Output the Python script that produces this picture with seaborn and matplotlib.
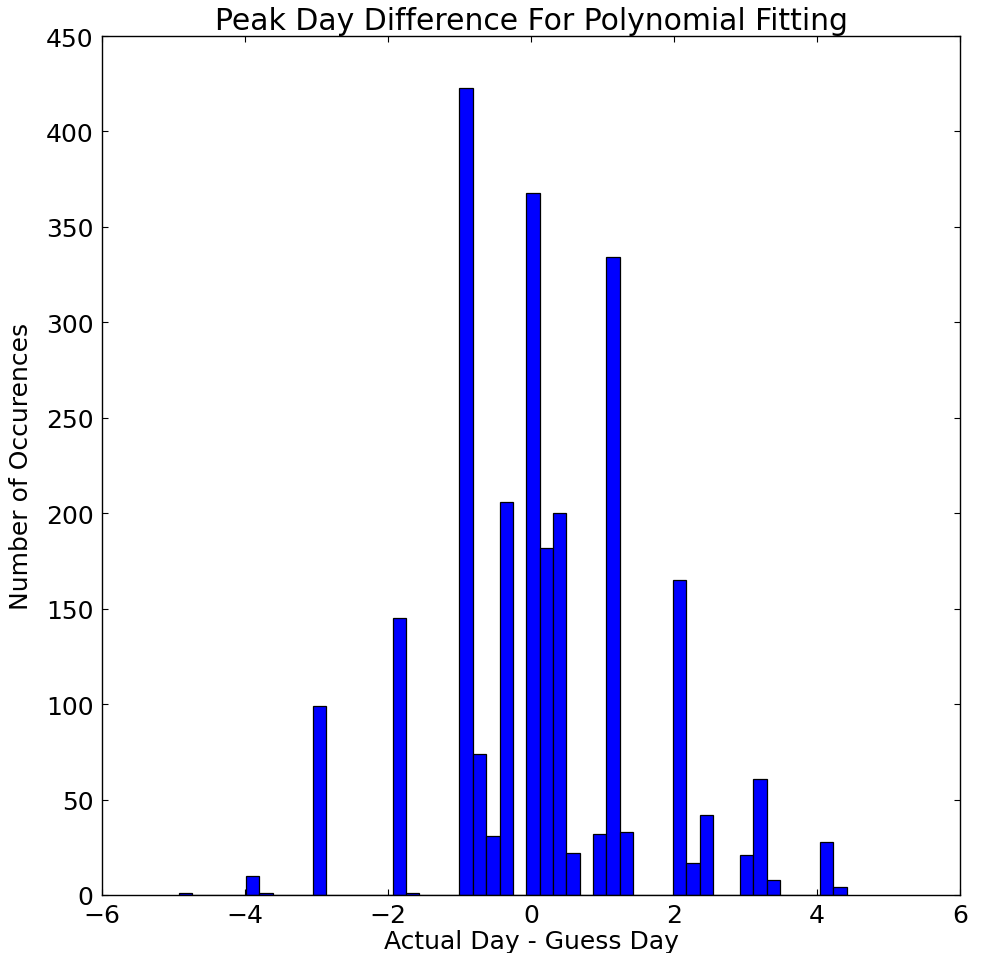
import matplotlib
matplotlib.use("Agg")
import matplotlib.pyplot as plt
import numpy as np
import seaborn as sns

# day differences (bar centres) and their counts
diff_values = [-4.83, -3.90, -3.71, -2.96, -1.84, -1.65, -0.91, -0.72, -0.53, -0.35,
               0.03, 0.21, 0.40, 0.59, 0.96, 1.15, 1.33, 2.08, 2.27, 2.45,
               3.01, 3.20, 3.39, 4.13, 4.32]
occurrences = [1, 10, 1, 99, 145, 1, 423, 74, 31, 206,
               368, 182, 200, 22, 32, 334, 33, 165, 17, 42,
               21, 61, 8, 28, 4]
n_bins = 50
bin_range = (-4.922, 4.414)

x_ticks = [-6, -4, -2, 0, 2, 4, 6]
y_ticks = [0, 50, 100, 150, 200, 250, 300, 350, 400, 450]

sns.set_style("ticks")
plt.rcParams["font.family"] = ["DejaVu Sans"]
plt.rcParams["xtick.direction"] = "in"
plt.rcParams["ytick.direction"] = "in"
plt.rcParams["text.color"] = "black"
plt.rcParams["axes.labelcolor"] = "black"
plt.rcParams["xtick.color"] = "black"
plt.rcParams["ytick.color"] = "black"

fig = plt.figure(figsize=(9.81, 9.54), dpi=100)
ax = fig.add_axes([0.104, 0.0608, 0.8746, 0.9004])

sns.histplot(x=diff_values, weights=occurrences, bins=n_bins, binrange=bin_range,
             color="#0000ff", edgecolor="black", linewidth=0.9, alpha=1.0, ax=ax)

ax.set_xlim(-6, 6)
ax.set_ylim(0, 450)
ax.set_xticks(x_ticks)
ax.set_yticks(y_ticks)
ax.tick_params(axis="both", labelsize=18, top=True, right=True, length=4,
               width=0.8, color="black", labelcolor="black", pad=6)
for side in ["top", "right", "bottom", "left"]:
    ax.spines[side].set_visible(True)
    ax.spines[side].set_color("black")
    ax.spines[side].set_linewidth(1.0)

ax.set_title("Peak Day Difference For Polynomial Fitting", fontsize=21.5, pad=5,
             color="black")
ax.set_xlabel("Actual Day - Guess Day", fontsize=18, labelpad=1)
ax.set_ylabel("Number of Occurences", fontsize=18, labelpad=9)

fig.savefig("out.png", dpi=100)
plt.close(fig)
